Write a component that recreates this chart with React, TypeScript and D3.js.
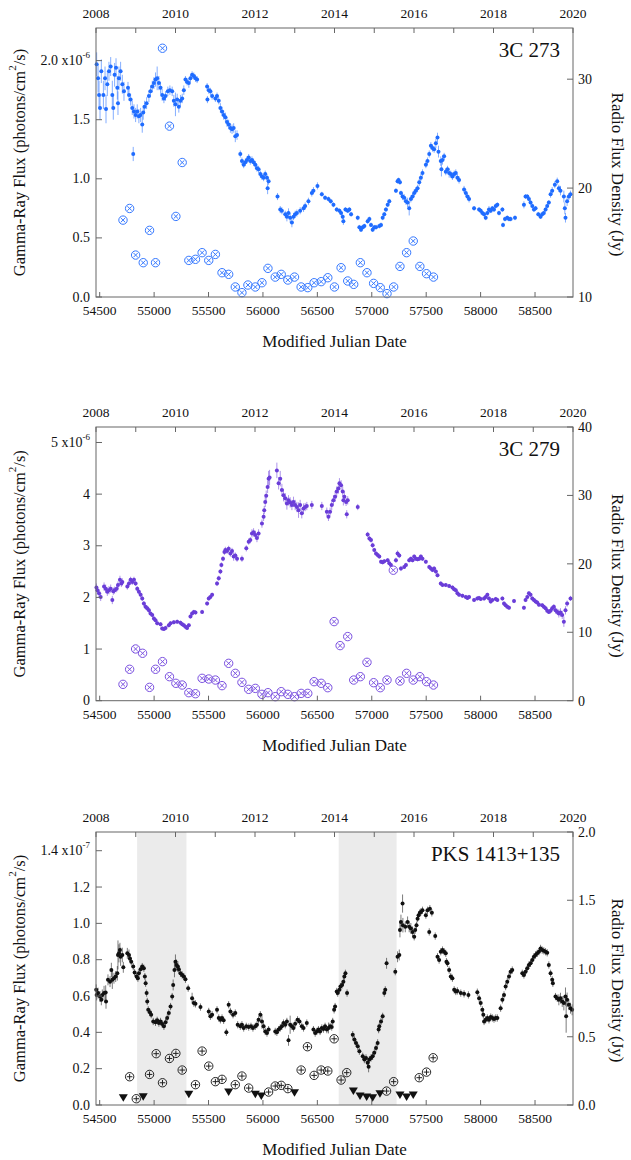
import * as d3 from "d3";

// shared time axis: 2008.0 .. 2020.0 in MJD
const mjdRange = [54466, 58849];
const yearRange = [2008, 2020];
const mjdTicks = [54500, 55000, 55500, 56000, 56500, 57000, 57500, 58000, 58500];
const yearTicks = d3.range(2008, 2021);

// 3C 273 gamma-ray flux: [MJD, flux (1e-6 ph/cm2/s), error]
const gamma3C273 = [
  [54472,1.97,0.10],[54485,1.85,0.12],[54494,1.71,0.12],[54503,1.60,0.10],[54515,1.91,0.10],[54534,1.71,0.12],
  [54549,1.85,0.10],[54558,1.59,0.12],[54570,1.80,0.10],[54585,1.91,0.08],[54601,1.95,0.08],[54616,1.71,0.12],
  [54625,1.60,0.10],[54637,1.88,0.10],[54650,1.94,0.08],[54662,1.77,0.10],[54668,1.64,0.10],[54677,1.85,0.10],
  [54692,1.91,0.08],[54708,1.80,0.08],[54723,1.74,0.08],[54760,1.77,0.05],[54769,1.71,0.05],[54784,1.67,0.05],
  [54799,1.60,0.06],[54808,1.21,0.06],[54815,1.57,0.06],[54830,1.54,0.06],[54845,1.57,0.06],[54860,1.53,0.06],
  [54876,1.54,0.06],[54891,1.46,0.07],[54900,1.56,0.06],[54912,1.61,0.05],[54931,1.64,0.05],[54952,1.70,0.05],
  [54967,1.74,0.05],[54983,1.78,0.05],[54998,1.81,0.05],[55013,1.84,0.06],[55028,1.85,0.10],[55044,1.81,0.06],
  [55059,1.77,0.05],[55074,1.71,0.05],[55090,1.68,0.04],[55105,1.70,0.04],[55126,1.74,0.04],[55145,1.75,0.04],
  [55166,1.74,0.04],[55181,1.66,0.05],[55196,1.63,0.10],[55212,1.67,0.05],[55227,1.61,0.05],[55242,1.66,0.05],
  [55258,1.68,0.04],[55273,1.75,0.04],[55288,1.84,0.03],[55303,1.82,0.03],[55319,1.81,0.04],[55334,1.85,0.03],
  [55349,1.88,0.03],[55365,1.87,0.03],[55380,1.85,0.03],[55395,1.84,0.03],[55487,1.78,0.03],[55490,1.67,0.03],
  [55502,1.75,0.03],[55517,1.74,0.03],[55533,1.70,0.03],[55563,1.68,0.03],[55578,1.70,0.03],[55594,1.66,0.03],
  [55609,1.60,0.04],[55624,1.57,0.04],[55639,1.54,0.04],[55655,1.52,0.04],[55670,1.48,0.04],[55685,1.46,0.04],
  [55701,1.43,0.04],[55716,1.42,0.04],[55731,1.43,0.04],[55746,1.36,0.05],[55762,1.37,0.04],[55792,1.21,0.03],
  [55807,1.15,0.03],[55823,1.12,0.03],[55838,1.14,0.03],[55853,1.16,0.03],[55869,1.18,0.03],[55884,1.15,0.03],
  [55899,1.16,0.03],[55914,1.14,0.03],[55930,1.12,0.03],[55945,1.09,0.03],[55960,1.08,0.03],[55976,1.04,0.03],
  [55991,1.02,0.03],[56006,1.01,0.03],[56021,1.04,0.03],[56037,1.01,0.03],[56043,0.92,0.05],[56052,0.98,0.03],
  [56134,0.85,0.03],[56159,0.74,0.03],[56174,0.73,0.03],[56205,0.70,0.03],[56220,0.68,0.04],[56235,0.71,0.04],
  [56250,0.67,0.04],[56266,0.63,0.04],[56281,0.68,0.03],[56296,0.70,0.03],[56312,0.71,0.03],[56342,0.73,0.03],
  [56373,0.75,0.03],[56388,0.77,0.03],[56418,0.81,0.03],[56449,0.88,0.03],[56464,0.90,0.03],[56501,0.94,0.03],
  [56541,0.87,0.02],[56571,0.84,0.02],[56602,0.83,0.02],[56623,0.81,0.02],[56648,0.78,0.02],[56678,0.74,0.02],
  [56703,0.73,0.02],[56718,0.71,0.02],[56733,0.68,0.02],[56739,0.64,0.03],[56758,0.74,0.02],[56779,0.73,0.02],
  [56794,0.74,0.02],[56810,0.70,0.02],[56871,0.67,0.02],[56886,0.59,0.02],[56901,0.57,0.02],[56917,0.59,0.02],
  [56932,0.60,0.02],[56962,0.64,0.02],[56978,0.66,0.02],[56993,0.61,0.02],[57008,0.57,0.02],[57023,0.59,0.02],
  [57039,0.59,0.02],[57069,0.60,0.02],[57085,0.61,0.02],[57100,0.67,0.02],[57115,0.70,0.02],[57130,0.74,0.02],
  [57146,0.78,0.02],[57161,0.81,0.02],[57222,0.90,0.02],[57237,0.98,0.02],[57246,0.99,0.02],[57259,0.97,0.02],
  [57268,0.88,0.02],[57283,0.85,0.03],[57298,0.84,0.03],[57314,0.81,0.03],[57329,0.80,0.04],[57344,0.75,0.06],
  [57359,0.83,0.03],[57375,0.85,0.03],[57390,0.88,0.03],[57405,0.90,0.03],[57421,0.92,0.03],[57436,0.97,0.03],
  [57451,1.01,0.03],[57466,1.05,0.03],[57497,1.12,0.03],[57512,1.15,0.03],[57528,1.21,0.03],[57543,1.28,0.03],
  [57558,1.26,0.03],[57573,1.25,0.03],[57589,1.30,0.04],[57604,1.35,0.04],[57613,1.23,0.05],[57634,1.15,0.04],
  [57640,1.08,0.06],[57650,1.16,0.04],[57665,1.19,0.03],[57680,1.06,0.03],[57696,1.08,0.03],[57711,1.05,0.04],
  [57726,1.04,0.03],[57741,1.02,0.03],[57757,1.04,0.03],[57772,1.05,0.03],[57787,1.01,0.03],[57802,0.99,0.03],
  [57848,0.91,0.03],[57864,0.88,0.03],[57879,0.85,0.03],[57894,0.83,0.03],[57940,0.75,0.02],[57986,0.74,0.02],
  [58001,0.73,0.02],[58016,0.71,0.02],[58032,0.70,0.02],[58047,0.67,0.02],[58062,0.71,0.02],[58077,0.74,0.03],
  [58093,0.73,0.02],[58108,0.75,0.02],[58123,0.74,0.02],[58139,0.77,0.02],[58154,0.78,0.02],[58169,0.71,0.02],
  [58200,0.74,0.02],[58206,0.61,0.02],[58224,0.66,0.02],[58245,0.67,0.02],[58261,0.66,0.02],[58276,0.66,0.02],
  [58316,0.67,0.02],[58398,0.78,0.03],[58413,0.85,0.02],[58429,0.85,0.02],[58444,0.83,0.02],[58459,0.80,0.02],
  [58475,0.77,0.02],[58490,0.74,0.02],[58505,0.75,0.02],[58530,0.70,0.02],[58551,0.68,0.02],[58566,0.70,0.02],
  [58581,0.71,0.02],[58597,0.74,0.02],[58612,0.77,0.02],[58627,0.80,0.02],[58643,0.87,0.03],[58658,0.90,0.03],
  [58682,0.95,0.03],[58704,0.98,0.03],[58719,0.92,0.03],[58734,0.90,0.04],[58765,0.85,0.05],[58774,0.75,0.05],
  [58780,0.67,0.04],[58795,0.81,0.04],[58811,0.85,0.03],[58826,0.87,0.03],
];

// 3C 273 radio: [MJD, Jy]
const radio3C273 = [
  [54714,17.06],[54775,18.13],[54830,13.85],[54900,13.15],[54958,16.12],[55013,13.15],[55077,32.84],[55141,25.69],
  [55200,17.40],[55258,22.35],[55319,13.36],[55380,13.46],[55441,14.07],[55502,13.36],[55563,13.91],[55624,12.23],
  [55685,12.08],[55746,10.92],[55807,10.40],[55862,11.10],[55930,10.92],[55991,11.31],[56046,12.63],[56113,11.83],
  [56168,12.08],[56229,11.56],[56290,11.83],[56351,10.92],[56412,10.86],[56470,11.31],[56535,11.41],[56596,11.77],
  [56657,10.92],[56718,12.69],[56779,11.47],[56834,11.16],[56895,13.15],[56956,12.23],[57017,11.25],[57078,10.86],
  [57140,10.31],[57201,10.92],[57259,12.81],[57320,14.07],[57381,15.14],[57442,12.81],[57503,12.14],[57567,11.83],
];

// 3C 279 gamma-ray flux: [MJD, flux (1e-6), error]
const gamma3C279 = [
  [54470,2.19,0.08],[54479,2.14,0.08],[54494,2.08,0.08],[54509,2.01,0.08],[54540,2.21,0.08],[54555,2.17,0.08],
  [54570,2.11,0.08],[54585,2.14,0.08],[54601,2.17,0.08],[54616,1.95,0.08],[54625,2.12,0.07],[54637,2.14,0.07],
  [54656,2.17,0.07],[54668,2.24,0.07],[54686,2.34,0.08],[54699,2.27,0.07],[54708,2.30,0.07],[54754,2.21,0.06],
  [54769,2.27,0.06],[54784,2.34,0.06],[54799,2.30,0.06],[54815,2.34,0.06],[54830,2.27,0.05],[54845,2.17,0.05],
  [54860,2.11,0.05],[54876,2.05,0.05],[54891,1.98,0.05],[54906,1.88,0.05],[54921,1.82,0.05],[54937,1.79,0.05],
  [54952,1.75,0.05],[54967,1.69,0.04],[54983,1.66,0.04],[54998,1.59,0.04],[55013,1.56,0.04],[55028,1.50,0.04],
  [55059,1.48,0.04],[55074,1.40,0.04],[55090,1.39,0.04],[55105,1.41,0.04],[55135,1.46,0.04],[55151,1.50,0.04],
  [55181,1.52,0.04],[55212,1.53,0.04],[55242,1.51,0.04],[55258,1.48,0.04],[55273,1.46,0.04],[55288,1.43,0.04],
  [55303,1.41,0.04],[55319,1.46,0.04],[55334,1.63,0.04],[55349,1.69,0.04],[55365,1.72,0.04],[55380,1.71,0.04],
  [55441,1.72,0.04],[55487,1.88,0.04],[55502,1.98,0.04],[55517,2.01,0.04],[55533,2.05,0.04],[55578,2.27,0.05],
  [55594,2.37,0.05],[55609,2.50,0.05],[55618,2.63,0.05],[55633,2.75,0.05],[55646,2.88,0.06],[55655,2.92,0.06],
  [55670,2.90,0.06],[55685,2.94,0.06],[55701,2.85,0.06],[55716,2.90,0.06],[55731,2.79,0.08],[55746,2.81,0.06],
  [55762,2.75,0.06],[55807,2.75,0.06],[55847,2.95,0.06],[55869,3.08,0.06],[55884,3.11,0.06],[55899,3.24,0.08],
  [55914,3.26,0.08],[55930,3.21,0.08],[55945,3.15,0.08],[55960,3.24,0.08],[55991,3.43,0.08],[56006,3.56,0.08],
  [56012,3.69,0.08],[56021,3.85,0.10],[56030,3.97,0.10],[56043,4.14,0.12],[56052,4.30,0.15],[56061,4.32,0.15],
  [56128,4.46,0.15],[56144,4.21,0.12],[56159,4.30,0.15],[56174,4.08,0.12],[56189,3.98,0.12],[56205,3.92,0.10],
  [56220,3.82,0.12],[56235,3.88,0.10],[56250,3.84,0.10],[56266,3.79,0.10],[56281,3.85,0.10],[56296,3.79,0.10],
  [56312,3.75,0.10],[56327,3.69,0.15],[56342,3.79,0.10],[56357,3.63,0.10],[56373,3.72,0.10],[56388,3.75,0.08],
  [56403,3.77,0.08],[56449,3.79,0.08],[56541,3.77,0.08],[56587,3.66,0.08],[56602,3.56,0.08],[56617,3.66,0.08],
  [56632,3.79,0.10],[56648,3.88,0.10],[56663,3.95,0.10],[56678,4.05,0.10],[56693,4.11,0.10],[56703,4.21,0.10],
  [56718,4.17,0.10],[56733,4.05,0.10],[56739,3.88,0.10],[56748,3.95,0.10],[56764,3.85,0.08],[56770,3.61,0.08],
  [56779,3.88,0.08],[56871,3.75,0.06],[56962,3.22,0.05],[56978,3.14,0.05],[56993,3.11,0.05],[57008,3.01,0.05],
  [57023,2.92,0.04],[57039,2.85,0.04],[57054,2.82,0.04],[57069,2.79,0.04],[57085,2.69,0.04],[57100,2.68,0.04],
  [57115,2.70,0.04],[57146,2.72,0.04],[57161,2.66,0.04],[57176,2.63,0.04],[57222,2.72,0.05],[57237,2.85,0.06],
  [57253,2.81,0.05],[57268,2.56,0.05],[57298,2.59,0.04],[57314,2.63,0.04],[57344,2.72,0.04],[57359,2.75,0.04],
  [57375,2.72,0.04],[57390,2.79,0.04],[57405,2.75,0.04],[57421,2.74,0.04],[57436,2.75,0.04],[57451,2.79,0.04],
  [57466,2.75,0.04],[57497,2.69,0.04],[57528,2.59,0.04],[57543,2.56,0.04],[57558,2.53,0.04],[57573,2.56,0.04],
  [57589,2.50,0.04],[57604,2.43,0.04],[57634,2.27,0.04],[57650,2.24,0.04],[57680,2.24,0.04],[57711,2.22,0.04],
  [57741,2.19,0.04],[57757,2.16,0.04],[57772,2.14,0.04],[57787,2.08,0.04],[57802,2.05,0.04],[57833,2.03,0.04],
  [57864,2.01,0.04],[57879,1.99,0.04],[57894,2.01,0.04],[57940,1.95,0.04],[57970,1.98,0.04],[57986,1.99,0.04],
  [58001,1.97,0.04],[58032,1.98,0.04],[58047,2.01,0.04],[58062,2.05,0.04],[58077,1.98,0.04],[58093,1.92,0.04],
  [58108,1.95,0.04],[58139,1.97,0.04],[58154,1.95,0.04],[58200,1.98,0.04],[58215,1.88,0.04],[58230,1.85,0.04],
  [58245,1.82,0.04],[58261,1.80,0.04],[58307,1.93,0.04],[58398,1.80,0.04],[58413,1.95,0.04],[58429,2.01,0.04],
  [58444,2.08,0.04],[58459,2.05,0.04],[58475,1.98,0.04],[58490,1.95,0.04],[58505,1.92,0.04],[58520,1.90,0.04],
  [58536,1.86,0.04],[58566,1.85,0.04],[58581,1.82,0.04],[58597,1.79,0.04],[58612,1.74,0.04],[58627,1.72,0.04],
  [58643,1.74,0.05],[58658,1.79,0.05],[58673,1.82,0.05],[58688,1.75,0.06],[58704,1.72,0.06],[58719,1.69,0.08],
  [58734,1.71,0.08],[58750,1.66,0.08],[58765,1.53,0.10],[58780,1.75,0.08],[58795,1.88,0.06],[58826,1.98,0.05],
];

// 3C 279 radio: [MJD, Jy]
const radio3C279 = [
  [54714,2.39],[54775,4.59],[54830,7.56],[54894,6.93],[54958,1.95],[55013,4.59],[55077,5.71],[55141,3.51],
  [55200,2.54],[55258,2.29],[55319,1.17],[55380,1.02],[55441,3.27],[55502,3.17],[55563,3.02],[55624,2.20],
  [55685,5.46],[55746,4.00],[55807,2.68],[55869,1.66],[55930,1.80],[55991,0.93],[56046,1.17],[56113,0.59],
  [56168,1.32],[56229,0.93],[56290,0.59],[56351,1.07],[56412,1.07],[56470,2.78],[56535,2.54],[56596,1.90],
  [56654,11.56],[56709,8.05],[56779,9.37],[56834,3.02],[56895,3.51],[56956,5.61],[57017,2.63],[57078,1.90],
  [57140,3.02],[57198,19.07],[57259,2.88],[57320,4.00],[57381,3.02],[57442,3.51],[57503,2.78],[57567,2.29],
];

// PKS 1413+135 gamma-ray flux: [MJD, flux (1e-7), error]
const gamma1413 = [
  [54468,0.634,0.03],[54472,0.606,0.03],[54485,0.616,0.03],[54503,0.597,0.03],[54515,0.579,0.03],[54524,0.606,0.03],
  [54540,0.616,0.04],[54555,0.619,0.04],[54558,0.570,0.04],[54576,0.689,0.03],[54595,0.679,0.03],[54607,0.743,0.04],
  [54616,0.689,0.05],[54631,0.698,0.03],[54647,0.707,0.03],[54662,0.725,0.04],[54668,0.826,0.08],[54677,0.835,0.05],
  [54686,0.853,0.04],[54692,0.816,0.05],[54708,0.826,0.04],[54717,0.758,0.03],[54754,0.835,0.03],[54769,0.826,0.03],
  [54778,0.807,0.02],[54790,0.789,0.02],[54808,0.762,0.02],[54821,0.729,0.02],[54839,0.707,0.02],[54851,0.698,0.02],
  [54860,0.725,0.02],[54876,0.747,0.02],[54891,0.762,0.02],[54906,0.753,0.02],[54915,0.707,0.02],[54922,0.670,0.02],
  [54931,0.616,0.02],[54937,0.570,0.02],[54946,0.524,0.02],[54961,0.510,0.02],[54973,0.497,0.02],[54992,0.460,0.02],
  [55013,0.455,0.02],[55028,0.466,0.02],[55044,0.451,0.02],[55059,0.460,0.02],[55074,0.446,0.02],[55090,0.433,0.02],
  [55105,0.455,0.02],[55120,0.479,0.02],[55135,0.506,0.02],[55151,0.542,0.02],[55166,0.597,0.02],[55175,0.661,0.03],
  [55187,0.743,0.04],[55196,0.789,0.04],[55206,0.771,0.03],[55218,0.762,0.03],[55227,0.747,0.02],[55242,0.725,0.02],
  [55258,0.716,0.02],[55273,0.707,0.02],[55288,0.692,0.02],[55313,0.643,0.02],[55349,0.588,0.03],[55365,0.561,0.02],
  [55380,0.557,0.02],[55426,0.539,0.02],[55502,0.515,0.02],[55517,0.488,0.02],[55533,0.497,0.02],[55578,0.524,0.02],
  [55594,0.479,0.02],[55609,0.469,0.02],[55624,0.479,0.02],[55639,0.466,0.02],[55664,0.400,0.02],[55685,0.552,0.02],
  [55701,0.515,0.02],[55725,0.497,0.02],[55746,0.506,0.02],[55768,0.442,0.02],[55792,0.433,0.02],[55807,0.442,0.02],
  [55823,0.424,0.02],[55847,0.433,0.02],[55869,0.429,0.02],[55890,0.433,0.02],[55908,0.424,0.02],[55930,0.433,0.02],
  [55945,0.442,0.02],[55960,0.469,0.02],[55976,0.497,0.02],[55991,0.460,0.04],[56006,0.433,0.02],[56021,0.405,0.02],
  [56037,0.396,0.02],[56052,0.415,0.02],[56113,0.405,0.02],[56128,0.400,0.02],[56144,0.415,0.02],[56159,0.424,0.02],
  [56174,0.433,0.02],[56189,0.451,0.02],[56205,0.442,0.02],[56220,0.460,0.02],[56235,0.356,0.03],[56250,0.442,0.05],
  [56266,0.433,0.02],[56281,0.424,0.02],[56296,0.447,0.02],[56318,0.469,0.02],[56336,0.460,0.02],[56357,0.433,0.02],
  [56373,0.424,0.02],[56403,0.451,0.02],[56464,0.415,0.02],[56480,0.396,0.02],[56495,0.405,0.02],[56510,0.415,0.02],
  [56525,0.405,0.02],[56541,0.424,0.02],[56556,0.418,0.02],[56571,0.433,0.02],[56587,0.415,0.02],[56602,0.424,0.03],
  [56617,0.433,0.02],[56632,0.429,0.02],[56641,0.460,0.02],[56654,0.524,0.02],[56663,0.542,0.02],[56678,0.625,0.02],
  [56687,0.616,0.02],[56703,0.634,0.02],[56712,0.652,0.02],[56727,0.661,0.02],[56739,0.679,0.02],[56748,0.707,0.02],
  [56758,0.725,0.02],[56773,0.616,0.02],[56825,0.387,0.02],[56840,0.360,0.02],[56855,0.342,0.02],[56871,0.323,0.02],
  [56886,0.296,0.02],[56917,0.268,0.02],[56932,0.250,0.02],[56947,0.259,0.02],[56962,0.232,0.02],[56971,0.210,0.03],
  [56978,0.250,0.02],[56993,0.259,0.02],[57008,0.268,0.02],[57023,0.287,0.02],[57039,0.314,0.02],[57054,0.342,0.02],
  [57063,0.415,0.02],[57069,0.433,0.02],[57085,0.460,0.02],[57100,0.488,0.02],[57115,0.616,0.02],[57124,0.634,0.02],
  [57136,0.780,0.03],[57216,0.734,0.02],[57237,0.816,0.03],[57253,0.826,0.03],[57259,0.963,0.04],[57268,1.008,0.04],
  [57283,1.109,0.05],[57286,0.990,0.04],[57308,0.981,0.03],[57329,1.008,0.03],[57344,0.981,0.03],[57359,0.972,0.03],
  [57375,0.953,0.03],[57390,0.926,0.02],[57399,0.963,0.02],[57411,0.990,0.02],[57421,1.026,0.02],[57430,1.045,0.02],
  [57442,1.058,0.02],[57451,1.063,0.02],[57466,1.072,0.02],[57497,1.045,0.02],[57512,1.072,0.02],[57528,0.953,0.02],
  [57534,1.081,0.02],[57552,1.058,0.02],[57583,0.930,0.02],[57604,0.816,0.02],[57619,0.798,0.02],[57634,0.844,0.02],
  [57650,0.853,0.02],[57665,0.844,0.02],[57680,0.835,0.02],[57686,0.789,0.02],[57696,0.780,0.02],[57711,0.743,0.02],
  [57726,0.707,0.02],[57741,0.698,0.02],[57757,0.634,0.02],[57772,0.625,0.02],[57787,0.628,0.02],[57818,0.616,0.02],
  [57848,0.612,0.02],[57888,0.606,0.02],[57970,0.621,0.02],[57986,0.588,0.02],[58001,0.561,0.02],[58016,0.524,0.02],
  [58025,0.497,0.02],[58032,0.460,0.02],[58047,0.469,0.02],[58062,0.479,0.02],[58077,0.469,0.02],[58093,0.484,0.02],
  [58108,0.479,0.02],[58123,0.473,0.02],[58139,0.479,0.02],[58154,0.479,0.02],[58184,0.533,0.02],[58200,0.579,0.02],
  [58215,0.606,0.02],[58230,0.652,0.02],[58245,0.679,0.02],[58261,0.707,0.02],[58276,0.734,0.02],[58291,0.743,0.02],
  [58383,0.725,0.02],[58398,0.716,0.02],[58413,0.734,0.02],[58429,0.753,0.02],[58444,0.771,0.02],[58459,0.780,0.02],
  [58475,0.798,0.02],[58490,0.816,0.02],[58505,0.826,0.02],[58520,0.835,0.02],[58536,0.844,0.02],[58551,0.862,0.02],
  [58566,0.853,0.02],[58581,0.849,0.02],[58597,0.844,0.02],[58612,0.838,0.02],[58627,0.771,0.02],[58643,0.725,0.02],
  [58658,0.689,0.02],[58664,0.670,0.02],[58688,0.597,0.02],[58704,0.588,0.02],[58719,0.579,0.03],[58734,0.588,0.03],
  [58750,0.570,0.03],[58765,0.561,0.04],[58780,0.597,0.05],[58786,0.488,0.09],[58795,0.579,0.04],[58811,0.552,0.03],
  [58826,0.533,0.03],[58841,0.524,0.03],
];

// PKS 1413+135 radio detections: [MJD, Jy]
const radio1413 = [
  [54775,0.207],[54836,0.046],[54958,0.224],[55019,0.376],[55077,0.163],[55141,0.341],[55200,0.378],[55258,0.256],
  [55380,0.149],[55441,0.395],[55502,0.285],[55563,0.171],[55624,0.188],[55746,0.149],[55807,0.212],[55869,0.124],
  [56052,0.095],[56113,0.139],[56168,0.144],[56229,0.120],[56351,0.256],[56409,0.427],[56470,0.217],[56535,0.256],
  [56596,0.249],[56654,0.485],[56718,0.183],[56770,0.237],[57136,0.102],[57201,0.171],[57436,0.200],[57503,0.241],
  [57564,0.346],
];

// PKS 1413+135 radio upper limits: [MJD, Jy]
const limits1413 = [
  [54717,0.054],[54900,0.061],[55319,0.078],[55685,0.095],[55930,0.078],[55985,0.066],[56290,0.090],
  [56831,0.102],[56892,0.066],[56953,0.059],[57008,0.054],[57075,0.083],[57259,0.073],[57320,0.059],[57381,0.073],
];

// shaded intervals in the PKS 1413+135 panel: [MJD start, MJD end]
const shaded1413 = [[54844, 55297], [56696, 57228]];

// layout
const W = 631, H = 1160;
const X0 = 96, X1 = 573;
const serif = "'Liberation Serif', 'Times New Roman', serif";

const x = d3.scaleLinear().domain(mjdRange).range([X0, X1]);
const xYear = d3.scaleLinear().domain(yearRange).range([X0, X1]);

const panels = [
  {
    name: "3C 273", top: 28, bottom: 297, color: "#1f6cff", ringColor: "#3478ff",
    gamma: gamma3C273, radio: radio3C273, limits: [] as number[][], bands: [] as number[][],
    yDomain: [0, 2.276], yTicks: [0, 0.5, 1, 1.5, 2], yDigits: 1, exp: "-6",
    rDomain: [10, 34.7], rTicks: [10, 20, 30], rDigits: 0, mark: "x",
  },
  {
    name: "3C 279", top: 427, bottom: 700.7, color: "#6a3dd8", ringColor: "#7a50e0",
    gamma: gamma3C279, radio: radio3C279, limits: [] as number[][], bands: [] as number[][],
    yDomain: [0, 5.3], yTicks: [0, 1, 2, 3, 4, 5], yDigits: 0, exp: "-6",
    rDomain: [0, 40], rTicks: [0, 10, 20, 30, 40], rDigits: 0, mark: "x",
  },
  {
    name: "PKS 1413+135", top: 832, bottom: 1105, color: "#111", ringColor: "#222",
    gamma: gamma1413, radio: radio1413, limits: limits1413, bands: shaded1413,
    yDomain: [0, 1.503], yTicks: [0, 0.2, 0.4, 0.6, 0.8, 1.0, 1.2, 1.4], yDigits: 1, exp: "-7",
    rDomain: [0, 2.0], rTicks: [0, 0.5, 1.0, 1.5, 2.0], rDigits: 1, mark: "+",
  },
];

type PanelCfg = typeof panels[number];

function Panel({ p }: { p: PanelCfg }) {
  const y = d3.scaleLinear().domain(p.yDomain).range([p.bottom, p.top]);
  const r = d3.scaleLinear().domain(p.rDomain).range([p.bottom, p.top]);
  const cy = (p.top + p.bottom) / 2;
  const axisColor = "#666";
  const lastY = p.yTicks[p.yTicks.length - 1];

  return (
    <g fontFamily={serif}>
      {/* shaded intervals */}
      {p.bands.map(([a, b], i) => (
        <rect key={i} x={x(a)} y={p.top} width={x(b) - x(a)} height={p.bottom - p.top} fill="#ebebeb" />
      ))}

      {/* gamma-ray error bars + points */}
      <g stroke={p.color} strokeOpacity={0.55} strokeWidth={1}>
        {p.gamma.map(([t, f, e], i) => (
          <line key={i} x1={x(t)} x2={x(t)} y1={y(f - e)} y2={y(f + e)} />
        ))}
      </g>
      <g fill={p.color}>
        {p.gamma.map(([t, f], i) => (
          <circle key={i} cx={x(t)} cy={y(f)} r={2} />
        ))}
      </g>

      {/* radio points */}
      <g stroke={p.ringColor} fill="none" strokeWidth={1}>
        {p.radio.map(([t, v], i) => {
          const cx = x(t), cyy = r(v);
          const a = 2.2;
          return (
            <g key={i}>
              <circle cx={cx} cy={cyy} r={4.2} />
              {p.mark === "x" ? (
                <path d={`M${cx - a},${cyy - a}L${cx + a},${cyy + a}M${cx - a},${cyy + a}L${cx + a},${cyy - a}`} />
              ) : (
                <path d={`M${cx - 2.8},${cyy}L${cx + 2.8},${cyy}M${cx},${cyy - 2.8}L${cx},${cyy + 2.8}`} />
              )}
            </g>
          );
        })}
      </g>
      <g fill="#111">
        {p.limits.map(([t, v], i) => {
          const cx = x(t), cyy = r(v);
          return <path key={i} d={`M${cx - 4.5},${cyy - 3.5}L${cx + 4.5},${cyy - 3.5}L${cx},${cyy + 4}Z`} />;
        })}
      </g>

      {/* frame */}
      <rect x={X0} y={p.top} width={X1 - X0} height={p.bottom - p.top} fill="none" stroke={axisColor} strokeWidth={1} />

      {/* bottom MJD ticks */}
      {mjdTicks.map((t) => (
        <g key={t}>
          <line x1={x(t)} x2={x(t)} y1={p.bottom} y2={p.bottom - 5} stroke={axisColor} />
          <text x={x(t)} y={p.bottom + 18} fontSize={13.5} textAnchor="middle" fill="#111">{t}</text>
        </g>
      ))}
      <text x={(X0 + X1) / 2} y={p.bottom + 50} fontSize={17} textAnchor="middle" fill="#111">Modified Julian Date</text>

      {/* top year ticks */}
      {yearTicks.map((yr) => (
        <g key={yr}>
          <line x1={xYear(yr)} x2={xYear(yr)} y1={p.top} y2={p.top + 5} stroke={axisColor} />
          {yr % 2 === 0 && (
            <text x={xYear(yr)} y={p.top - 10} fontSize={13.5} textAnchor="middle" fill="#111">{yr}</text>
          )}
        </g>
      ))}

      {/* left axis */}
      {p.yTicks.map((v) => (
        <g key={v}>
          <line x1={X0} x2={X0 + 6} y1={y(v)} y2={y(v)} stroke={axisColor} />
          <text x={90} y={y(v) + 4.5} fontSize={14} textAnchor="end" fill="#111">
            {v === lastY ? (
              <>
                {v.toFixed(p.yDigits)} x10<tspan dy={-7} fontSize={9}>{p.exp}</tspan>
              </>
            ) : (
              v.toFixed(p.yDigits)
            )}
          </text>
        </g>
      ))}

      {/* right axis */}
      {p.rTicks.map((v) => (
        <g key={v}>
          <line x1={X1} x2={X1 - 6} y1={r(v)} y2={r(v)} stroke={axisColor} />
          <text x={578} y={r(v) + 5} fontSize={14} textAnchor="start" fill="#111">{v.toFixed(p.rDigits)}</text>
        </g>
      ))}

      {/* axis titles */}
      <text transform={`translate(19,${cy}) rotate(-90)`} fontSize={16.5} textAnchor="middle" dominantBaseline="central" fill="#111">
        Gamma-Ray Flux (photons/cm<tspan dy={-7} fontSize={11}>2</tspan><tspan dy={7}>/s)</tspan>
      </text>
      <text transform={`translate(617,${cy + 12}) rotate(90)`} fontSize={17} textAnchor="middle" dominantBaseline="central" fill="#111">
        Radio Flux Density (Jy)
      </text>

      {/* source name */}
      <text x={560} y={p.top + 29} fontSize={21} textAnchor="end" fill="#111">{p.name}</text>
    </g>
  );
}

export default function App() {
  return (
    <svg width={W} height={H} style={{ position: "absolute", left: 0, top: 0, background: "#fff" }}>
      {panels.map((p) => (
        <Panel key={p.name} p={p} />
      ))}
    </svg>
  );
}
